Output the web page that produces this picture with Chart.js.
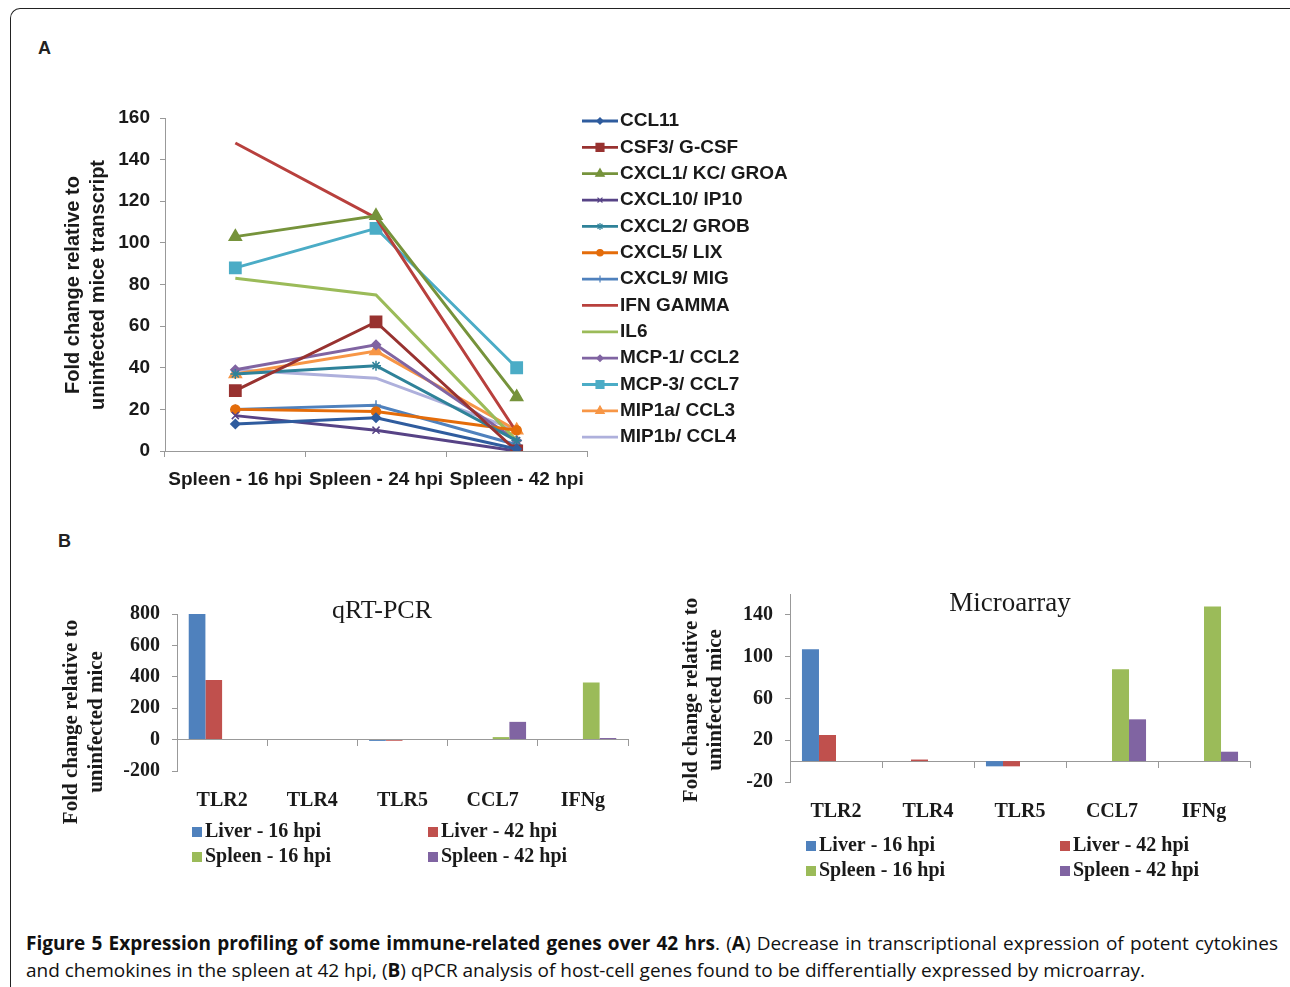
<!DOCTYPE html>
<html>
<head>
<meta charset="utf-8">
<script src="https://cdn.jsdelivr.net/npm/chart.js@4.4.0/dist/chart.umd.min.js"></script>
<style>
  body { margin:0; background:#fff; width:1290px; height:987px; overflow:hidden; position:relative; }
  .frame { position:absolute; left:10px; top:8px; width:1300px; height:1000px; border-left:1.5px solid #222; border-top:1.5px solid #222; border-top-left-radius:10px; }
  canvas { position:absolute; }
  .lab { position:absolute; font:bold 18px "Liberation Sans", Arial, sans-serif; color:#222; }
  .caption { position:absolute; left:26px; top:930px; width:1252px; font:19px "Open Sans", sans-serif; line-height:27px; text-align:justify; color:#111; }
</style>
</head>
<body>
<div class="frame"></div>
<div class="lab" style="left:38px;top:38px;">A</div>
<div class="lab" style="left:58px;top:531px;">B</div>
<canvas id="chartA" width="830" height="408" style="left:0;top:92px;"></canvas>
<canvas id="chartB1" width="660" height="300" style="left:0;top:590px;"></canvas>
<canvas id="chartB2" width="630" height="320" style="left:660px;top:570px;"></canvas>
<div class="caption"><b>Figure 5 Expression profiling of some immune-related genes over 42 hrs</b>. (<b>A</b>) Decrease in transcriptional expression of potent cytokines and chemokines in the spleen at 42 hpi, (<b>B</b>) qPCR analysis of host-cell genes found to be differentially expressed by microarray.</div>
<script>
// panel A - spleen time course
const timePoints = ['Spleen - 16 hpi', 'Spleen - 24 hpi', 'Spleen - 42 hpi'];
const geneNames = ['CCL11', 'CSF3/ G-CSF', 'CXCL1/ KC/ GROA', 'CXCL10/ IP10', 'CXCL2/ GROB', 'CXCL5/ LIX',
  'CXCL9/ MIG', 'IFN GAMMA', 'IL6', 'MCP-1/ CCL2', 'MCP-3/ CCL7', 'MIP1a/ CCL3', 'MIP1b/ CCL4'];
const ccl11 = [13, 16, 1];
const csf3 = [29, 62, 0];
const cxcl1 = [103, 113, 26];
const cxcl10 = [17, 10, 0];
const cxcl2 = [37, 41, 5];
const cxcl5 = [20, 19, 10];
const cxcl9 = [20, 22, 3];
const ifnGamma = [148, 112, 9];
const il6 = [83, 75, 5];
const mcp1 = [39, 51, 5];
const mcp3 = [88, 107, 40];
const mip1a = [37, 48, 10];
const mip1b = [39, 35, 10];
const yTicksA = [0, 20, 40, 60, 80, 100, 120, 140, 160];

// panel B - qRT-PCR vs microarray
const genesB = ['TLR2', 'TLR4', 'TLR5', 'CCL7', 'IFNg'];
const groupsB = ['Liver - 16 hpi', 'Liver - 42 hpi', 'Spleen - 16 hpi', 'Spleen - 42 hpi'];
const pcrLiver16 = [800, 0, -9, 0, 0];
const pcrLiver42 = [380, 0, -8, 0, 0];
const pcrSpleen16 = [0, 0, 0, 16, 363];
const pcrSpleen42 = [0, 0, 0, 113, 10];
const arrLiver16 = [107, 0, -5, 0, 0];
const arrLiver42 = [25, 1.5, -5, 0, 0];
const arrSpleen16 = [0, 0, 0, 88, 148];
const arrSpleen42 = [0, 0, 0, 40, 9];
const yTicksPcr = [-200, 0, 200, 400, 600, 800];
const yTicksArr = [-20, 20, 60, 100, 140];

const sans = '"Liberation Sans", Arial, sans-serif';
const serif = '"Liberation Serif", "Times New Roman", serif';

function drawTexts(ctx, items){
  items.forEach(t=>{
    ctx.save();
    ctx.font = t.font; ctx.fillStyle = t.color || '#1a1a1a';
    ctx.textAlign = t.align || 'center'; ctx.textBaseline = 'middle';
    ctx.translate(t.x, t.y);
    if(t.rot) ctx.rotate(t.rot);
    ctx.fillText(t.text, 0, 0);
    ctx.restore();
  });
}

// ---------- chart A ----------
const seriesA = [ccl11, csf3, cxcl1, cxcl10, cxcl2, cxcl5, cxcl9, ifnGamma, il6, mcp1, mcp3, mip1a, mip1b];
const colorsA = ['#2F5C9E','#983230','#76933B','#574386','#2F8299','#E46C0A','#4F81BD','#B8403D','#9BBB59','#8064A2','#4BACC6','#F79646','#AEB0DC'];
const stylesA = ['rectRot','rect','triangle','crossRot','star','circle','cross',false,false,'rectRot','rect','triangle',false];
const radiiA = [4.5,8,7,5,5,4.5,5,0,0,4.5,8,7,0];

const legendA = {
  id:'legendA',
  afterDraw(chart){
    const ctx = chart.ctx;
    chart.data.datasets.forEach((ds,i)=>{
      const y = 29 + i*26.35, x0 = 582;
      ctx.save();
      ctx.strokeStyle = ds.borderColor; ctx.fillStyle = ds.borderColor; ctx.lineWidth = 2.8;
      ctx.beginPath(); ctx.moveTo(x0, y); ctx.lineTo(x0+36, y); ctx.stroke();
      if(ds.pointStyle){
        ctx.lineWidth = 1.2;
        Chart.helpers.drawPoint(ctx, {pointStyle: ds.pointStyle, rotation:0, radius: ds.pointRadius*0.7, borderWidth:1.2}, x0+18, y);
      }
      ctx.restore();
      drawTexts(ctx, [{text: ds.label, x: x0+38, y: y, align:'left', font:'bold 19px '+sans}]);
    });
    drawTexts(ctx, [
      {text:'Fold change relative to', x:73, y:193, rot:-Math.PI/2, font:'bold 20px '+sans},
      {text:'uninfected mice transcript', x:98, y:193, rot:-Math.PI/2, font:'bold 20px '+sans}
    ]);
  }
};

new Chart(document.getElementById('chartA'), {
  type:'line',
  data:{
    labels: timePoints,
    datasets: seriesA.map((d,i)=>({
      label: geneNames[i], data: d,
      borderColor: colorsA[i], backgroundColor: colorsA[i],
      borderWidth: 3, tension: 0,
      pointStyle: stylesA[i], pointRadius: radiiA[i], pointBorderWidth: 1.5,
      pointBackgroundColor: colorsA[i], pointBorderColor: colorsA[i]
    }))
  },
  options:{
    responsive:false, animation:false, devicePixelRatio:1,
    layout:{ padding:{ top:26, right:243, left:0, bottom:0 } },
    plugins:{ legend:{display:false}, tooltip:{enabled:false} },
    scales:{
      x:{
        offset:true,
        grid:{ drawOnChartArea:false, offset:true, tickLength:6, color:'#999' },
        border:{ color:'#999' },
        ticks:{ padding:11, color:'#1a1a1a', font:{ family:sans, size:19, weight:'bold' }, maxRotation:0, autoSkip:false },
        afterFit(s){ s.height = 49; }
      },
      y:{
        min:0, max:160,
        afterBuildTicks(s){ s.ticks = yTicksA.map(v=>({value:v})); },
        grid:{ drawOnChartArea:false, tickLength:5, color:'#999' },
        border:{ color:'#999' },
        ticks:{ padding:10, color:'#1a1a1a', font:{ family:sans, size:19, weight:'bold' } },
        afterFit(s){ s.width = 165; }
      }
    }
  },
  plugins:[legendA]
});

// ---------- chart B ----------
const colorsB = ['#4F81BD','#C0504D','#9BBB59','#8064A2'];

function barChart(id, seriesB, yMin, yMax, ticksB, cfg){
  const overlay = {
    id:'overlay'+id,
    afterDraw(chart){
      const ctx = chart.ctx;
      drawTexts(ctx, cfg.texts);
      chart.data.datasets.forEach((ds,i)=>{
        const x = cfg.legendX[i%2], y = cfg.legendY[Math.floor(i/2)];
        ctx.fillStyle = ds.backgroundColor;
        ctx.fillRect(x, y-5, 10, 10);
        drawTexts(ctx, [{text: ds.label, x: x+13, y: y, align:'left', font:'bold 20px '+serif}]);
      });
    }
  };
  return new Chart(document.getElementById(id), {
    type:'bar',
    data:{
      labels: genesB,
      datasets: seriesB.map((d,i)=>({ label: groupsB[i], data: d, backgroundColor: colorsB[i], borderWidth:0 }))
    },
    options:{
      responsive:false, animation:false, devicePixelRatio:1,
      layout:{ padding:{ top:cfg.top, right:cfg.right, left:0, bottom:0 } },
      categoryPercentage:0.74, barPercentage:1,
      plugins:{ legend:{display:false}, tooltip:{enabled:false} },
      scales:{
        x:{
          grid:{ display:false, drawTicks:false },
          border:{ display:false },
          ticks:{ padding:18, color:'#1a1a1a', font:{ family:serif, size:20, weight:'bold' }, maxRotation:0 },
          afterFit(s){ s.height = cfg.xH; }
        },
        x0:{
          axis:'x', type:'category', position:{ y:0 },
          grid:{ drawOnChartArea:false, offset:true, tickLength:6, color:'#999' },
          border:{ color:'#999' },
          ticks:{ display:false }
        },
        y:{
          min:yMin, max:yMax,
          afterBuildTicks(s){ s.ticks = ticksB.map(v=>({value:v})); },
          grid:{ drawOnChartArea:false, tickLength:5, color:'#999' },
          border:{ color:'#999' },
          ticks:{ padding:12, color:'#1a1a1a', font:{ family:serif, size:20, weight:'bold' } },
          afterFit(s){ s.width = cfg.yW; }
        }
      }
    },
    plugins:[overlay]
  });
}

barChart('chartB1', [pcrLiver16, pcrLiver42, pcrSpleen16, pcrSpleen42], -200, 800, yTicksPcr, {
  top:24, right:32, yW:177, xH:119,
  legendX:[192, 428], legendY:[242, 267],
  texts:[
    {text:'qRT-PCR', x:382, y:21, font:'26px '+serif},
    {text:'Fold change relative to', x:72, y:132, rot:-Math.PI/2, font:'bold 21px '+serif},
    {text:'uninfected mice', x:97, y:132, rot:-Math.PI/2, font:'bold 21px '+serif}
  ]
});

barChart('chartB2', [arrLiver16, arrLiver42, arrSpleen16, arrSpleen42], -20, 160, yTicksArr, {
  top:24, right:40, yW:130, xH:108,
  legendX:[146, 400], legendY:[276, 301],
  texts:[
    {text:'Microarray', x:350, y:34, font:'27px '+serif},
    {text:'Fold change relative to', x:32, y:130, rot:-Math.PI/2, font:'bold 21px '+serif},
    {text:'uninfected mice', x:56, y:130, rot:-Math.PI/2, font:'bold 21px '+serif}
  ]
});
</script>
</body>
</html>
